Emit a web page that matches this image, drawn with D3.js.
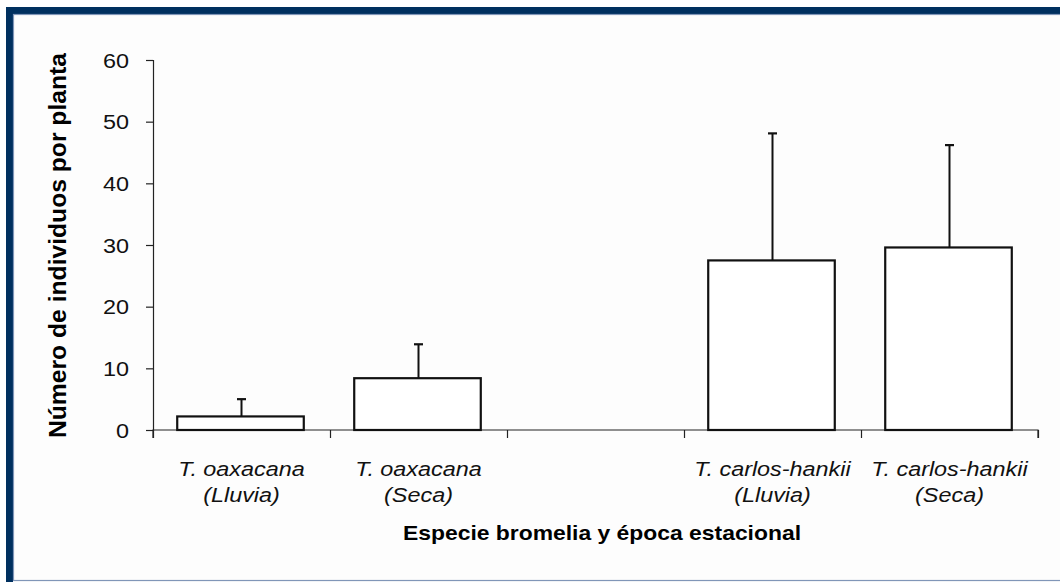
<!DOCTYPE html>
<html>
<head>
<meta charset="utf-8">
<script src="https://cdn.jsdelivr.net/npm/d3@7"></script>
<style>
  html, body { margin: 0; padding: 0; background: #ffffff; }
  svg { display: block; }
  text { font-family: "Liberation Sans", Arial, sans-serif; }
</style>
</head>
<body>
<svg id="chart" width="1060" height="582"></svg>
<script>
// ---- data ----
const categories = ["oax-lluvia", "oax-seca", "blank", "car-lluvia", "car-seca"];
const labelLine1 = ["T. oaxacana", "T. oaxacana", "", "T. carlos-hankii", "T. carlos-hankii"];
const labelLine2 = ["(Lluvia)", "(Seca)", "", "(Lluvia)", "(Seca)"];
const means = [2.2, 8.4, null, 27.5, 29.6];
const errUp = [2.8, 5.5, null, 20.6, 16.6];
const yTicks = [0, 10, 20, 30, 40, 50, 60];
const yTitle = "Número de individuos por planta";
const xTitle = "Especie bromelia y época estacional";

// ---- layout ----
const W = 1060, H = 582;
const plot = { left: 153, right: 1038, top: 60, bottom: 430 };
const svg = d3.select("#chart");

// frame
svg.append("rect").attr("x", 0).attr("y", 0).attr("width", W).attr("height", H).attr("fill", "#ffffff");
svg.append("rect").attr("x", 9.5).attr("y", 10.5).attr("width", 1080).attr("height", 600)
  .attr("fill", "#fdfdfd").attr("stroke", "#00305f").attr("stroke-width", 7);
svg.append("rect").attr("x", 13.5).attr("y", 14.5).attr("width", 1080).attr("height", 566)
  .attr("fill", "none").attr("stroke", "#8096b8").attr("stroke-width", 1.2);

const y = d3.scaleLinear().domain([0, 60]).range([plot.bottom, plot.top]);
const x = d3.scaleBand().domain(categories).range([plot.left, plot.right]).padding(0);
const xb = d3.scaleLinear().domain([0, categories.length]).range([plot.left, plot.right]);
const barW = x.bandwidth() * 0.715;
const SX = 1.2;

// y axis
const yAxis = svg.append("g").attr("transform", `translate(${plot.left},0)`)
  .call(d3.axisLeft(y).tickValues(yTicks).tickSize(7).tickPadding(17));
yAxis.select(".domain").attr("stroke", "#222").attr("stroke-width", 1.2);
yAxis.selectAll(".tick line").attr("stroke", "#222").attr("stroke-width", 1.2);
yAxis.selectAll(".tick text")
  .attr("font-family", "Liberation Sans, Arial, sans-serif")
  .attr("font-size", 19.5).attr("fill", "#111")
  .attr("dy", "0.36em")
  .attr("transform", function() {
    const xx = +d3.select(this).attr("x");
    return `translate(${xx * (1 - SX)},0) scale(${SX},1)`;
  });

// x axis
const xAxis = svg.append("g").attr("transform", `translate(0,${plot.bottom})`)
  .call(d3.axisBottom(xb).tickValues(d3.range(categories.length + 1)).tickSize(8).tickFormat(""));
xAxis.select(".domain").attr("stroke", "#222").attr("stroke-width", 1.2)
  .attr("d", `M${plot.left},8V0H${plot.right}V8`);
xAxis.selectAll(".tick line").attr("stroke", "#222").attr("stroke-width", 1.2);

// bars
const data = categories.map((c, i) => ({ c, m: means[i], e: errUp[i] })).filter(d => d.m !== null);
svg.append("g").selectAll("line.err").data(data).join("line")
  .attr("x1", d => x(d.c) + x.bandwidth() / 2).attr("x2", d => x(d.c) + x.bandwidth() / 2)
  .attr("y1", d => y(d.m)).attr("y2", d => y(d.m + d.e))
  .attr("stroke", "#111").attr("stroke-width", 2);
svg.append("g").selectAll("line.cap").data(data).join("line")
  .attr("x1", d => x(d.c) + x.bandwidth() / 2 - 4.5).attr("x2", d => x(d.c) + x.bandwidth() / 2 + 4.5)
  .attr("y1", d => y(d.m + d.e)).attr("y2", d => y(d.m + d.e))
  .attr("stroke", "#111").attr("stroke-width", 2.2);
svg.append("g").selectAll("rect").data(data).join("rect")
  .attr("x", d => x(d.c) + (x.bandwidth() - barW) / 2 - 1)
  .attr("width", barW)
  .attr("y", d => y(d.m))
  .attr("height", d => y(0) - y(d.m))
  .attr("fill", "#ffffff").attr("stroke", "#111").attr("stroke-width", 2.2);

// category labels
const lab = svg.append("g");
categories.forEach((c, i) => {
  const cx = x(c) + x.bandwidth() / 2;
  [labelLine1[i], labelLine2[i]].forEach((t, j) => {
    if (!t) return;
    lab.append("text")
      .attr("transform", `translate(${cx},${476 + j * 26}) scale(${SX},1)`)
      .attr("text-anchor", "middle")
      .attr("font-size", 19.5).attr("font-style", "italic").attr("fill", "#111")
      .text(t);
  });
});

// titles
svg.append("text")
  .attr("x", 602).attr("y", 540)
  .attr("text-anchor", "middle").attr("font-size", 21).attr("font-weight", "bold").attr("fill", "#000")
  .attr("textLength", 398).attr("lengthAdjust", "spacingAndGlyphs")
  .text(xTitle);
svg.append("text")
  .attr("transform", "translate(66,245.5) rotate(-90)")
  .attr("text-anchor", "middle").attr("font-size", 23).attr("font-weight", "bold").attr("fill", "#000")
  .attr("textLength", 385).attr("lengthAdjust", "spacingAndGlyphs")
  .text(yTitle);
</script>
</body>
</html>
